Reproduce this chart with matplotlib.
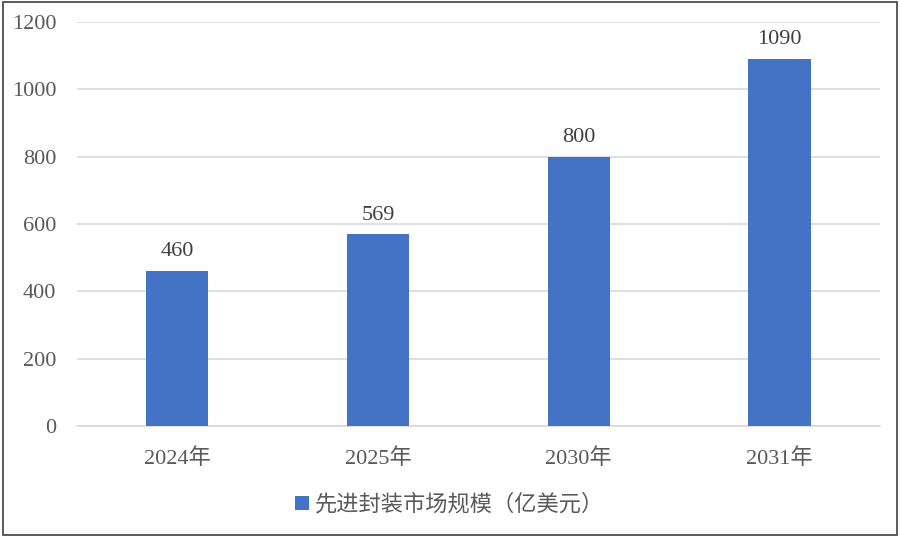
import matplotlib
matplotlib.use('Agg')
import matplotlib.pyplot as plt
from matplotlib.patches import Rectangle

plt.rcParams['font.family'] = ['Liberation Serif', 'Noto Sans CJK SC', 'DejaVu Sans']

# data
years = ['2024年', '2025年', '2030年', '2031年']
market_size = [460, 569, 800, 1090]
series_name = '先进封装市场规模（亿美元）'
y_ticks = [0, 200, 400, 600, 800, 1000, 1200]

bar_color = '#4472c4'
text_color = '#595959'

fig = plt.figure(figsize=(9, 5.37), dpi=100)
ax = fig.add_axes([0.0856, 0.2067, 0.892, 0.7523])

x = range(len(years))
bars = ax.bar(x, market_size, width=0.31, color=bar_color, label=series_name, zorder=3)

# value labels above the bars
for xi, v in zip(x, market_size):
    ax.annotate(str(v), (xi, v), xytext=(0, 7), textcoords='offset points',
                ha='center', va='bottom', fontsize=16, color='#404040')

ax.set_xlim(-0.5, len(years) - 0.5)
ax.set_ylim(0, 1200)
ax.set_yticks(y_ticks)
ax.set_xticks(list(x))
ax.set_xticklabels(years)
ax.tick_params(axis='both', length=0, labelsize=16, labelcolor=text_color)
ax.tick_params(axis='y', pad=15)
ax.tick_params(axis='x', pad=16)
ax.grid(axis='y', color='#d9d9d9', linewidth=1.2, zorder=0)
for s in ['top', 'right', 'left']:
    ax.spines[s].set_visible(False)
ax.spines['bottom'].set_color('#d9d9d9')
ax.spines['bottom'].set_linewidth(1.2)

leg = fig.legend(loc='center', bbox_to_anchor=(0.5, 0.06), frameon=False,
                 fontsize=16, handlelength=0.6, handleheight=0.6, handletextpad=0.3)
for t in leg.get_texts():
    t.set_color(text_color)

# figure border
fig.patches.append(Rectangle((0.003, 0.004), 0.994, 0.992, transform=fig.transFigure,
                             fill=False, edgecolor='#404040', linewidth=1.2))

fig.savefig('out.png', dpi=100)
